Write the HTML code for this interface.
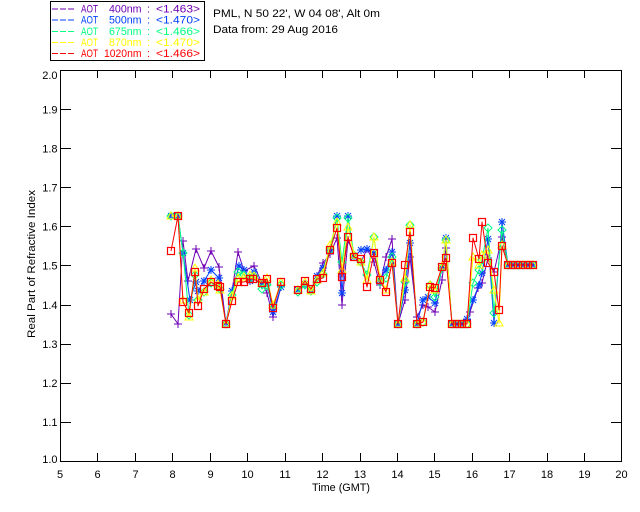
<!DOCTYPE html>
<html>
<head>
<meta charset="utf-8">
<style>
  html,body{margin:0;padding:0;background:#fff;}
  svg{display:block;}
  text{font-family:"Liberation Sans",sans-serif;font-size:11px;fill:#000;}
</style>
</head>
<body>
<svg width="640" height="512" viewBox="0 0 640 512" xmlns="http://www.w3.org/2000/svg">
  <defs>
    <marker id="mP" viewBox="-5 -5 10 10" refX="0" refY="0" markerWidth="10" markerHeight="10" markerUnits="userSpaceOnUse" overflow="visible">
      <path d="M-4,0H4M0,-4V4" stroke="#6e00b4" stroke-width="1" fill="none"/>
    </marker>
    <marker id="mB" viewBox="-5 -5 10 10" refX="0" refY="0" markerWidth="10" markerHeight="10" markerUnits="userSpaceOnUse" overflow="visible">
      <path d="M-4,0H4M0,-4V4M-3,-3L3,3M-3,3L3,-3" stroke="#0040ff" stroke-width="1" fill="none"/>
    </marker>
    <marker id="mG" viewBox="-5 -5 10 10" refX="0" refY="0" markerWidth="10" markerHeight="10" markerUnits="userSpaceOnUse" overflow="visible">
      <path d="M0,-4L4,0L0,4L-4,0Z" stroke="#00ff80" stroke-width="1" fill="none"/>
    </marker>
    <marker id="mY" viewBox="-5 -5 10 10" refX="0" refY="0" markerWidth="10" markerHeight="10" markerUnits="userSpaceOnUse" overflow="visible">
      <path d="M0,-4L4,3L-4,3Z" stroke="#ffff00" stroke-width="1" fill="none"/>
    </marker>
    <marker id="mR" viewBox="-5 -5 10 10" refX="0" refY="0" markerWidth="10" markerHeight="10" markerUnits="userSpaceOnUse" overflow="visible">
      <rect x="-3.5" y="-3.5" width="7" height="7" stroke="#ff0000" stroke-width="1.2" fill="none"/>
    </marker>
  </defs>

  <!-- Legend box -->
  <rect x="50.5" y="1.5" width="154" height="59" fill="none" stroke="#000" stroke-width="1"/>
  <g stroke-width="1" stroke-dasharray="6,2">
    <line x1="52" y1="9" x2="75" y2="9" stroke="#6e00b4"/>
    <line x1="52" y1="20" x2="75" y2="20" stroke="#0040ff"/>
    <line x1="52" y1="31.5" x2="75" y2="31.5" stroke="#00ff80"/>
    <line x1="52" y1="42.5" x2="75" y2="42.5" stroke="#ffff00"/>
    <line x1="52" y1="53.5" x2="75" y2="53.5" stroke="#ff0000"/>
  </g>
  <g>
    <text x="81" y="12.5" style="fill:#6e00b4" textLength="17" lengthAdjust="spacingAndGlyphs">AOT</text>
    <text x="109" y="12.5" style="fill:#6e00b4" textLength="32.5" lengthAdjust="spacingAndGlyphs">400nm</text>
    <text x="147" y="12.5" style="fill:#6e00b4">:</text>
    <text x="156" y="12.5" style="fill:#6e00b4" textLength="44" lengthAdjust="spacingAndGlyphs">&lt;1.463&gt;</text>

    <text x="81" y="23.5" style="fill:#0040ff" textLength="17" lengthAdjust="spacingAndGlyphs">AOT</text>
    <text x="109" y="23.5" style="fill:#0040ff" textLength="32.5" lengthAdjust="spacingAndGlyphs">500nm</text>
    <text x="147" y="23.5" style="fill:#0040ff">:</text>
    <text x="156" y="23.5" style="fill:#0040ff" textLength="44" lengthAdjust="spacingAndGlyphs">&lt;1.470&gt;</text>

    <text x="81" y="35" style="fill:#00ff80" textLength="17" lengthAdjust="spacingAndGlyphs">AOT</text>
    <text x="109" y="35" style="fill:#00ff80" textLength="32.5" lengthAdjust="spacingAndGlyphs">675nm</text>
    <text x="147" y="35" style="fill:#00ff80">:</text>
    <text x="156" y="35" style="fill:#00ff80" textLength="44" lengthAdjust="spacingAndGlyphs">&lt;1.466&gt;</text>

    <text x="81" y="46" style="fill:#ffff00" textLength="17" lengthAdjust="spacingAndGlyphs">AOT</text>
    <text x="109" y="46" style="fill:#ffff00" textLength="32.5" lengthAdjust="spacingAndGlyphs">870nm</text>
    <text x="147" y="46" style="fill:#ffff00">:</text>
    <text x="156" y="46" style="fill:#ffff00" textLength="44" lengthAdjust="spacingAndGlyphs">&lt;1.470&gt;</text>

    <text x="81" y="57" style="fill:#ff0000" textLength="17" lengthAdjust="spacingAndGlyphs">AOT</text>
    <text x="104" y="57" style="fill:#ff0000" textLength="37.5" lengthAdjust="spacingAndGlyphs">1020nm</text>
    <text x="147" y="57" style="fill:#ff0000">:</text>
    <text x="156" y="57" style="fill:#ff0000" textLength="44" lengthAdjust="spacingAndGlyphs">&lt;1.466&gt;</text>
  </g>

  <text x="213" y="17" textLength="167" lengthAdjust="spacingAndGlyphs">PML, N 50 22', W 04 08', Alt 0m</text>
  <text x="213" y="33" textLength="125" lengthAdjust="spacingAndGlyphs">Data from: 29 Aug 2016</text>

  <!-- Axes frame -->
  <rect x="60.5" y="70.5" width="561" height="391" fill="none" stroke="#000" stroke-width="1"/>
  <!-- ticks -->
  <path stroke="#000" stroke-width="1" fill="none" d="
    M97.5,461.5V453 M135.5,461.5V453 M172.5,461.5V453 M210.5,461.5V453 M247.5,461.5V453 M285.5,461.5V453 M322.5,461.5V453 M360.5,461.5V453 M397.5,461.5V453 M434.5,461.5V453 M472.5,461.5V453 M509.5,461.5V453 M547.5,461.5V453 M584.5,461.5V453
    M97.5,70.5V78 M135.5,70.5V78 M172.5,70.5V78 M210.5,70.5V78 M247.5,70.5V78 M285.5,70.5V78 M322.5,70.5V78 M360.5,70.5V78 M397.5,70.5V78 M434.5,70.5V78 M472.5,70.5V78 M509.5,70.5V78 M547.5,70.5V78 M584.5,70.5V78
    M60.5,109.5H71 M60.5,148.5H71 M60.5,187.5H71 M60.5,226.5H71 M60.5,265.5H71 M60.5,305.5H71 M60.5,344.5H71 M60.5,383.5H71 M60.5,422.5H71
    M621.5,109.5H611 M621.5,148.5H611 M621.5,187.5H611 M621.5,226.5H611 M621.5,265.5H611 M621.5,305.5H611 M621.5,344.5H611 M621.5,383.5H611 M621.5,422.5H611
  "/>

  <!-- Y tick labels -->
  <g text-anchor="end">
    <text x="57.5" y="79">2.0</text>
    <text x="57.5" y="113.5">1.9</text>
    <text x="57.5" y="152.5">1.8</text>
    <text x="57.5" y="191.5">1.7</text>
    <text x="57.5" y="230.5">1.6</text>
    <text x="57.5" y="269.5">1.5</text>
    <text x="57.5" y="309">1.4</text>
    <text x="57.5" y="348">1.3</text>
    <text x="57.5" y="387">1.2</text>
    <text x="57.5" y="426">1.1</text>
    <text x="57.5" y="463">1.0</text>
  </g>
  <!-- X tick labels -->
  <g text-anchor="middle">
    <text x="60" y="478">5</text>
    <text x="97.5" y="478">6</text>
    <text x="135.5" y="478">7</text>
    <text x="172.5" y="478">8</text>
    <text x="210.5" y="478">9</text>
    <text x="247.5" y="478">10</text>
    <text x="285" y="478">11</text>
    <text x="322.5" y="478">12</text>
    <text x="360" y="478">13</text>
    <text x="397.5" y="478">14</text>
    <text x="434.5" y="478">15</text>
    <text x="472" y="478">16</text>
    <text x="509.5" y="478">17</text>
    <text x="547" y="478">18</text>
    <text x="584.5" y="478">19</text>
    <text x="621.5" y="478">20</text>
  </g>
  <text x="341" y="491" text-anchor="middle" textLength="58" lengthAdjust="spacingAndGlyphs">Time (GMT)</text>
  <text transform="translate(35,264) rotate(-90)" text-anchor="middle" textLength="148" lengthAdjust="spacingAndGlyphs">Real Part of Refractive Index</text>

  <g fill="none" stroke-width="1" stroke-linejoin="round">
    <!-- 400nm purple -->
    <polyline stroke="#6e00b4" marker-start="url(#mP)" marker-mid="url(#mP)" marker-end="url(#mP)"
      points="171,314 178,324 183,241 188,281 196,249 204,268 211,251 219,267 226,324 232,291 238,252 244,271 254,266 262,283 267,293 273,317 281,287"/>
    <polyline stroke="#6e00b4" marker-start="url(#mP)" marker-mid="url(#mP)" marker-end="url(#mP)"
      points="298,290 305,284 311,290 317,276 323,263 330,254 337,238 342,305 348,240 354,255 361,262 367,249 374,262 380,285 386,257 392,239 398,324 405,300 410,257 417,317 423,305 428,307 435,312 442,280 446,248 452,324 457,324 462,324 467,320 470,312 478,288 482,283 488,258 494,272 502,237 508,265 513,265 518,265 523,265 528,265 533,265"/>

    <!-- 500nm blue -->
    <polyline stroke="#0040ff" marker-start="url(#mB)" marker-mid="url(#mB)" marker-end="url(#mB)"
      points="171,216 178,216 183,253 190,300 196,282 198,291 204,281 211,270 219,278 226,323 232,291 239,266 244,270 250,281 254,272 262,284 267,283 273,312 281,287"/>
    <polyline stroke="#0040ff" marker-start="url(#mB)" marker-mid="url(#mB)" marker-end="url(#mB)"
      points="298,290 305,284 311,290 317,276 323,268 330,250 337,216 342,293 348,216 354,257 361,250 367,249 374,253 380,280 386,270 392,252 398,324 405,290 410,243 417,324 423,300 428,297 435,303 442,268 446,238 452,324 457,324 462,324 467,319 473,300 479,285 482,273 488,239 494,323 502,222 508,265 513,265 518,265 523,265 528,265 533,265"/>

    <!-- 675nm green -->
    <polyline stroke="#00ff80" marker-start="url(#mG)" marker-mid="url(#mG)" marker-end="url(#mG)"
      points="171,216 178,216 183,253 189,315 195,275 198,300 204,292 211,283 218,287 220,289 226,324 232,295 238,272 244,275 250,278 254,276 262,289 267,285 273,305 281,285"/>
    <polyline stroke="#00ff80" marker-start="url(#mG)" marker-mid="url(#mG)" marker-end="url(#mG)"
      points="298,292 305,285 311,291 317,282 323,274 330,250 337,218 342,262 348,218 354,255 361,262 367,275 374,237 380,282 386,278 392,257 398,324 405,282 410,225 417,324 423,322 430,285 435,297 442,268 446,240 452,324 457,324 462,324 467,324 473,283 479,270 482,260 488,228 494,313 502,230 508,265 513,265 518,265 523,265 528,265 533,265"/>

    <!-- 870nm yellow -->
    <polyline stroke="#ffff00" marker-start="url(#mY)" marker-mid="url(#mY)" marker-end="url(#mY)"
      points="171,216 178,216 183,300 189,317 195,268 198,300 204,292 211,280 218,284 220,290 226,324 232,296 238,278 244,277 250,275 254,276 262,283 267,278 273,305 281,282"/>
    <polyline stroke="#ffff00" marker-start="url(#mY)" marker-mid="url(#mY)" marker-end="url(#mY)"
      points="298,290 305,282 311,291 317,280 323,273 330,245 337,222 342,270 348,227 354,255 361,262 367,280 374,237 380,278 386,290 392,262 398,324 405,278 410,225 417,324 423,322 430,285 435,290 442,266 446,240 452,324 457,324 462,324 467,324 473,257 479,265 482,255 488,250 494,290 499,323 502,245 508,265 513,265 518,265 523,265 528,265 533,265"/>

    <!-- 1020nm red -->
    <polyline stroke="#ff0000" marker-start="url(#mR)" marker-mid="url(#mR)" marker-end="url(#mR)"
      points="171,251 178,216 183,302 189,313 195,272 198,306 204,289 211,282 218,286 220,287 226,324 232,301 238,282 244,282 250,279 253,279 262,283 267,279 273,308 281,282"/>
    <polyline stroke="#ff0000" marker-start="url(#mR)" marker-mid="url(#mR)" marker-end="url(#mR)"
      points="298,290 305,281 311,289 317,279 323,278 330,250 337,228 342,277 348,237 354,257 361,259 367,287 374,253 380,280 386,292 392,263 398,324 405,265 410,232 417,324 423,322 430,287 435,288 442,267 446,258 452,324 457,324 462,324 467,324 473,238 479,259 482,222 488,263 494,272 499,310 502,246 508,265 513,265 518,265 523,265 528,265 533,265"/>
  </g>
</svg>
</body>
</html>
